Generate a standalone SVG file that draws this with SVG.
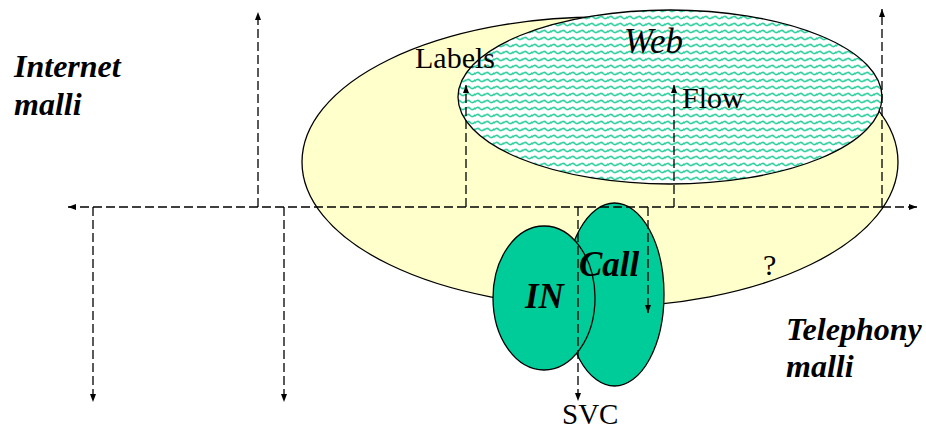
<svg xmlns="http://www.w3.org/2000/svg" width="926" height="430" viewBox="0 0 926 430">
<style>
text{font-family:'Liberation Serif','Times New Roman',Times,serif;fill:#000}
.bi{font-weight:bold;font-style:italic}
.it{font-style:italic}
.d{fill:none;stroke:#000;stroke-width:1.3;stroke-dasharray:9,4}
.e{stroke:#000;stroke-width:1.3}
</style>
<defs>
<marker id="ah" viewBox="0 0 8 6" refX="8" refY="3" markerWidth="8" markerHeight="6" markerUnits="userSpaceOnUse" orient="auto">
<path d="M0,0 L8,3 L0,6 Z" fill="#000"/>
</marker>
<pattern id="wave" width="9.5" height="7" patternUnits="userSpaceOnUse">
<rect width="9.5" height="7" fill="#fff"/>
<path d="M-0.6,4.6 Q2.375,0.8 4.75,3.5 Q7.125,6.2 10.1,2.4" fill="none" stroke="#2fcf9f" stroke-width="1.6"/>
</pattern>
</defs>
<g id="telephony-area">
<ellipse cx="600" cy="162" rx="298" ry="145" fill="#ffffcc" class="e"/>
</g>
<g id="web">
<ellipse cx="670" cy="97" rx="212" ry="87" fill="url(#wave)" class="e"/>
</g>
<g id="call">
<ellipse cx="614.5" cy="294.5" rx="49.5" ry="91.5" fill="#00cc99" class="e"/>
</g>
<g id="in">
<ellipse cx="544" cy="298" rx="51" ry="72" fill="#00cc99" class="e"/>
</g>
<g id="connectors">
<line class="d" x1="882" y1="207" x2="68" y2="207" marker-end="url(#ah)"/>
<line class="d" x1="882" y1="207" x2="917" y2="207" marker-end="url(#ah)"/>
<line class="d" x1="258" y1="207" x2="258" y2="12" marker-end="url(#ah)"/>
<line class="d" x1="93" y1="207" x2="93" y2="402" marker-end="url(#ah)"/>
<line class="d" x1="284" y1="207" x2="284" y2="402" marker-end="url(#ah)"/>
<line class="d" x1="466" y1="207" x2="466" y2="85" marker-end="url(#ah)"/>
<line class="d" x1="674" y1="207" x2="674" y2="85" marker-end="url(#ah)"/>
<line class="d" x1="882" y1="207" x2="882" y2="9" marker-end="url(#ah)"/>
<line class="d" x1="578" y1="207" x2="578" y2="401" marker-end="url(#ah)"/>
<line class="d" x1="648" y1="207" x2="648" y2="313" marker-end="url(#ah)"/>
</g>
<g id="labels">
<text class="bi" x="14" y="77" font-size="32" font-family="Liberation Serif, serif">Internet</text>
<text class="bi" x="14" y="115" font-size="32" font-family="Liberation Serif, serif">malli</text>
<text class="bi" x="786" y="340" font-size="32" font-family="Liberation Serif, serif">Telephony</text>
<text class="bi" x="786" y="377" font-size="32" font-family="Liberation Serif, serif">malli</text>
<text class="it" x="624" y="53" font-size="35" font-family="Liberation Serif, serif">Web</text>
<text x="415" y="68" font-size="30" font-family="Liberation Serif, serif">Labels</text>
<text x="682" y="108" font-size="30" font-family="Liberation Serif, serif">Flow</text>
<text class="bi" x="525" y="308" font-size="35" font-family="Liberation Serif, serif">IN</text>
<text class="bi" x="579" y="276" font-size="35" font-family="Liberation Serif, serif">Call</text>
<text x="763" y="275" font-size="30" font-family="Liberation Serif, serif">?</text>
<text x="562" y="424" font-size="29" font-family="Liberation Serif, serif">SVC</text>
</g>
</svg>
